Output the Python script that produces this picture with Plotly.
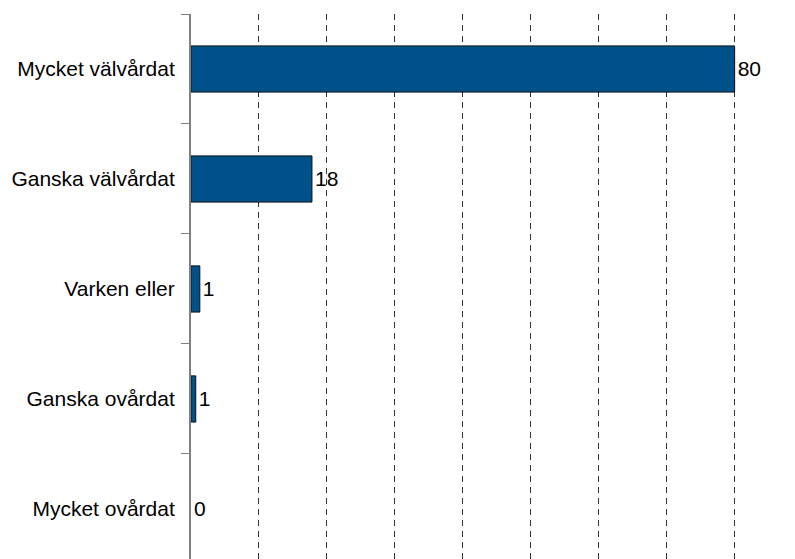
import plotly.graph_objects as go

categories = ["Mycket välvårdat", "Ganska välvårdat", "Varken eller", "Ganska ovårdat", "Mycket ovårdat"]
values = [80.0, 17.8, 1.3, 0.7, 0.0]
x_ticks = [0, 10, 20, 30, 40, 50, 60, 70, 80]

outline_widths = [1 if v > 0 else 0 for v in values]

fig = go.Figure()
fig.add_trace(go.Bar(
    y=categories,
    x=values,
    orientation="h",
    width=0.42,
    marker=dict(color="#00508A", line=dict(color="#111111", width=outline_widths)),
    texttemplate="%{x:.0f}",
    textposition="outside",
    textfont=dict(size=21, color="#000000", family="Liberation Sans, Arial, sans-serif"),
    cliponaxis=False,
    hoverinfo="skip",
))

fig.update_layout(
    width=787,
    height=551,
    margin=dict(l=183, r=59, t=6, b=0, autoexpand=False),
    paper_bgcolor="white",
    plot_bgcolor="white",
    showlegend=False,
    font=dict(family="Liberation Sans, Arial, sans-serif", size=21, color="#000000"),
    xaxis=dict(
        range=[0, 80.2],
        tickvals=x_ticks,
        showticklabels=False,
        showgrid=True,
        gridcolor="#333333",
        gridwidth=1,
        griddash="6px,5px",
        zeroline=False,
        showline=False,
        ticks="",
        automargin=False,
    ),
    yaxis=dict(
        type="category",
        categoryorder="array",
        categoryarray=categories,
        range=[4.455, -0.5],
        showline=True,
        linecolor="#808080",
        linewidth=2,
        ticks="outside",
        ticklen=8,
        tickcolor="#808080",
        tickwidth=1,
        tickson="boundaries",
        showgrid=False,
        zeroline=False,
        ticklabelstandoff=10,
        tickfont=dict(size=21, color="#000000"),
        automargin=False,
    ),
)

fig.write_html("out.html")
